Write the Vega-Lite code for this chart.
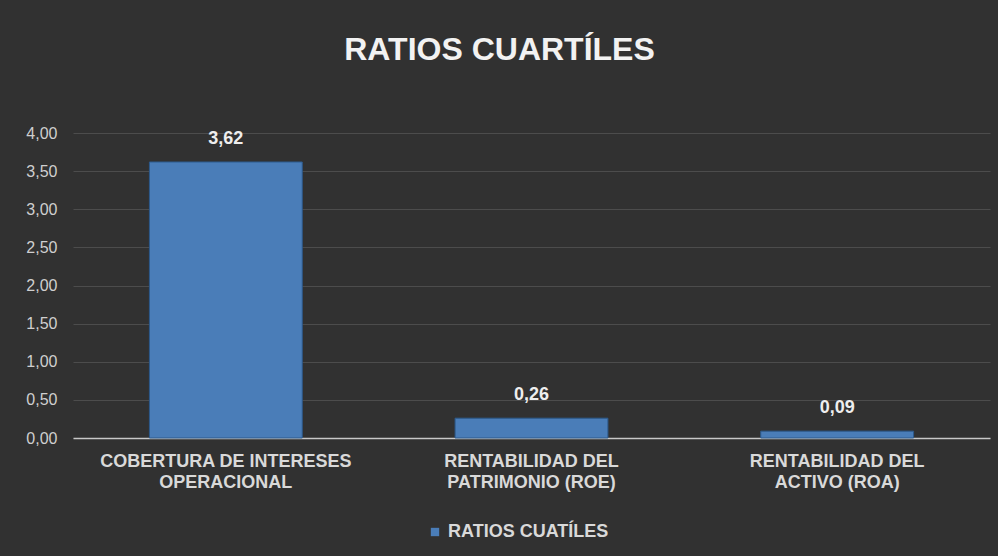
{
  "$schema": "https://vega.github.io/schema/vega-lite/v6.json",
  "autosize": {"type": "none"},
  "width": 917,
  "height": 305,
  "padding": {"left": 73, "top": 133, "right": 8, "bottom": 118},
  "background": "#313131",
  "title": {
    "text": "RATIOS CUARTÍLES",
    "color": "#f2f2f2",
    "font": "Liberation Sans",
    "fontSize": 32,
    "fontWeight": "bold",
    "limit": 0,
    "offset": 58,
    "dx": -32,
    "anchor": "middle"
  },
  "data": {
    "values": [
      {"ratio": "COBERTURA DE INTERESES OPERACIONAL", "valor": 3.62, "serie": "RATIOS CUATÍLES"},
      {"ratio": "RENTABILIDAD DEL PATRIMONIO (ROE)", "valor": 0.26, "serie": "RATIOS CUATÍLES"},
      {"ratio": "RENTABILIDAD DEL ACTIVO (ROA)", "valor": 0.09, "serie": "RATIOS CUATÍLES"}
    ]
  },
  "encoding": {
    "x": {
      "field": "ratio",
      "type": "nominal",
      "sort": null,
      "title": null,
      "scale": {"paddingInner": 0.5, "paddingOuter": 0.25},
      "axis": {
        "labelAngle": 0,
        "labelColor": "#d9d9d9",
        "labelFont": "Liberation Sans",
        "labelFontSize": 18,
        "labelFontWeight": "bold",
        "labelLineHeight": 21,
        "labelPadding": 14,
        "labelLimit": 0,
        "ticks": false,
        "domainColor": "#c8c8c8",
        "domainWidth": 1.5,
        "labelExpr": "datum.label == 'COBERTURA DE INTERESES OPERACIONAL' ? ['COBERTURA DE INTERESES', 'OPERACIONAL'] : datum.label == 'RENTABILIDAD DEL PATRIMONIO (ROE)' ? ['RENTABILIDAD DEL', 'PATRIMONIO (ROE)'] : ['RENTABILIDAD DEL', 'ACTIVO (ROA)']"
      }
    },
    "y": {
      "field": "valor",
      "type": "quantitative",
      "title": null,
      "scale": {"domain": [0, 4]},
      "axis": {
        "values": [0, 0.5, 1, 1.5, 2, 2.5, 3, 3.5, 4],
        "format": ".2f",
        "labelColor": "#cfcfcf",
        "labelFont": "Liberation Sans",
        "labelFontSize": 16,
        "labelPadding": 16,
        "ticks": false,
        "domain": false,
        "gridColor": "#4c4c4c",
        "gridWidth": 1.2
      }
    }
  },
  "layer": [
    {
      "mark": {"type": "bar", "stroke": "#2c5a8c", "strokeWidth": 1},
      "encoding": {
        "color": {
          "field": "serie",
          "type": "nominal",
          "title": null,
          "scale": {"range": ["#4a7db8"]},
          "legend": {
            "orient": "none",
            "legendX": 353,
            "legendY": 390,
            "symbolType": "square",
            "symbolSize": 70,
            "symbolStrokeWidth": 0,
            "labelColor": "#d9d9d9",
            "labelFont": "Liberation Sans",
            "labelFontSize": 18,
            "labelFontWeight": "bold",
            "labelLimit": 0
          }
        }
      }
    },
    {
      "mark": {
        "type": "text",
        "dy": -14,
        "baseline": "bottom",
        "color": "#eeeeee",
        "font": "Liberation Sans",
        "fontSize": 18,
        "fontWeight": "bold"
      },
      "encoding": {
        "text": {"field": "valor", "type": "quantitative", "format": ".2f"}
      }
    }
  ],
  "config": {
    "view": {"stroke": null},
    "locale": {"number": {"decimal": ",", "thousands": ".", "grouping": [3], "currency": ["", " €"]}}
  }
}
